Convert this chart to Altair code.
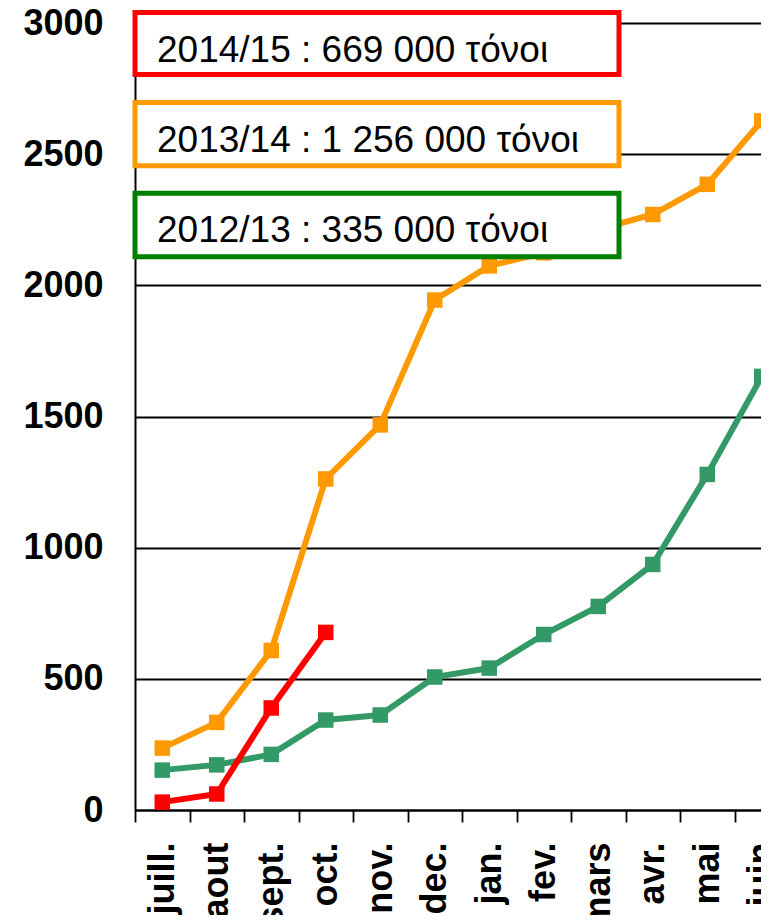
import altair as alt
import pandas as pd

months = ["juill.", "aout", "sept.", "oct.", "nov.", "dec.", "jan.", "fev.",
          "mars", "avr.", "mai", "iuin"]
s2012_13 = [152, 172, 212, 343, 362, 507, 541, 669, 776, 936, 1279, 1653]
s2013_14 = [236, 334, 608, 1262, 1468, 1944, 2074, 2124, 2213, 2270, 2385, 2627]
s2014_15 = [30, 61, 389, 677]

box_labels = ["2014/15 : 669 000 τόνοι", "2013/14 : 1 256 000 τόνοι", "2012/13 : 335 000 τόνοι"]

FONT = "Liberation Sans"

df12 = pd.DataFrame({"mois": months, "v": s2012_13})
df13 = pd.DataFrame({"mois": months, "v": s2013_14})
df14 = pd.DataFrame({"mois": months[:len(s2014_15)], "v": s2014_15})

x_enc = alt.X("mois:N", sort=months,
              scale=alt.Scale(type="band", domain=months, range=[0, 654],
                              paddingInner=0, paddingOuter=0),
              axis=alt.Axis(title=None, labelAngle=270, tickBand="extent",
                            tickSize=12, tickColor="black", tickWidth=1.8,
                            domainColor="black", domainWidth=2,
                            labelPadding=20, labelOverlap=False,
                            labelFont=FONT, labelFontWeight="bold",
                            labelFontSize=36, labelColor="black", grid=False))
y_enc = alt.Y("v:Q",
              scale=alt.Scale(domain=[0, 3000], nice=False, zero=True),
              axis=alt.Axis(title=None, values=[0, 500, 1000, 1500, 2000, 2500, 3000],
                            format="d",
                            tickSize=0, labelPadding=32, labelFlush=False,
                            labelOverlap=False, domainColor="black", domainWidth=2,
                            grid=True, gridColor="black", gridWidth=1.8, gridOpacity=1,
                            labelFont=FONT, labelFontWeight="bold",
                            labelFontSize=36, labelColor="black"))


def series(df, color):
    base = alt.Chart(df).encode(x=x_enc, y=y_enc)
    line = base.mark_line(color=color, strokeWidth=6)
    pts = base.mark_point(shape="square", filled=True, size=240, color=color, opacity=1)
    return line + pts


green = series(df12, "#339966")
orange = series(df13, "#FF9900")
red = series(df14, "#FF0000")


def box(i, y1, y2, ty, color):
    d = pd.DataFrame({"label": [box_labels[i]]})
    rect = alt.Chart(d).mark_rect(fill="white", stroke=color, strokeWidth=5).encode(
        x=alt.value(0), x2=alt.value(484), y=alt.value(y1), y2=alt.value(y2))
    txt = alt.Chart(d).mark_text(align="left", baseline="alphabetic", font=FONT,
                                 fontSize=37, color="black").encode(
        x=alt.value(22), y=alt.value(ty), text="label:N")
    return rect + txt


boxes = (box(0, -10.5, 51.5, 38.7, "#FF0000")
         + box(1, 79.5, 142.8, 128.7, "#FF9900")
         + box(2, 170.3, 233.8, 218.7, "#008000"))

chart = alt.layer(green, orange, red, boxes).properties(
    width=626, height=787,
    autosize=alt.AutoSizeParams(type="none"),
    padding={"left": 127, "top": 15, "right": 0, "bottom": 105},
).configure_view(stroke=None)

chart.save("out.html", embed_options={"renderer": "svg", "actions": False})
